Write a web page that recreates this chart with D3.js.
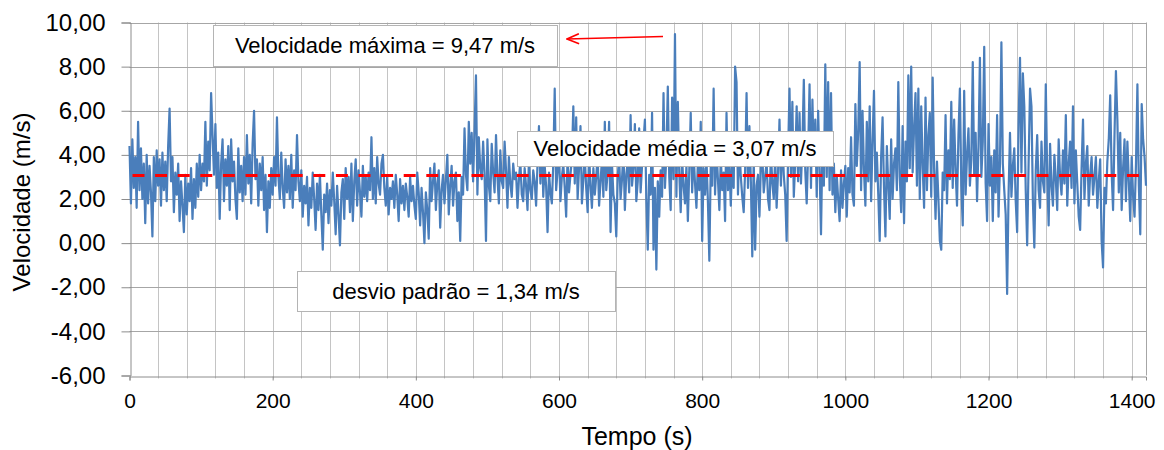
<!DOCTYPE html>
<html>
<head>
<meta charset="utf-8">
<script src="https://cdn.jsdelivr.net/npm/d3@7/dist/d3.min.js"></script>
<style>
  html, body { margin: 0; padding: 0; background: #ffffff; }
  svg { display: block; }
  text { font-family: "Liberation Sans", Arial, sans-serif; fill: #000; }
</style>
</head>
<body>
<svg id="chart" width="1164" height="450"></svg>
<script>
// Wind speed record, one reading every 2 s (m/s)
const timeStep = 2;
const speed = [
  // 0 - 58 s
  4.4, 1.8, 4.7, 2.5, 3.9, 1.6, 5.5, 2.4, 4.3, 2.0, 3.6, 0.9, 4.0, 1.8, 3.5, 2.3, 0.3, 3.9, 1.9, 4.2, 2.6, 3.8, 1.7, 4.1, 2.4, 3.7, 1.9, 4.4, 6.1, 2.8,
  // 60 - 118 s
  3.9, 1.4, 3.2, 2.2, 3.6, 1.0, 2.8, 1.7, 0.5, 3.1, 1.3, 2.7, 1.9, 3.4, 1.1, 2.9, 1.6, 3.6, 2.1, 4.0, 2.4, 3.6, 2.8, 5.5, 2.6, 4.6, 3.3, 6.8, 4.9, 3.1,
  // 120 - 178 s
  5.4, 2.5, 4.1, 1.1, 3.6, 4.7, 1.9, 3.8, 2.6, 4.4, 1.5, 4.7, 2.8, 3.7, 2.0, 1.1, 4.3, 2.3, 3.5, 1.9, 3.9, 2.2, 4.9, 2.7, 4.0, 1.8, 4.5, 6.0, 2.9, 3.8,
  // 180 - 238 s
  1.7, 3.6, 2.4, 3.9, 1.5, 3.1, 0.5, 2.8, 1.6, 3.4, 2.2, 3.9, 2.6, 5.7, 3.0, 2.0, 4.1, 2.5, 1.6, 3.8, 2.3, 3.5, 2.0, 4.0, 1.6, 3.3, 2.4, 4.9, 2.8, 1.9,
  // 240 - 298 s
  3.3, 1.2, 2.6, 1.8, 3.0, 0.8, 2.5, 1.6, 3.2, 2.0, 0.6, 2.7, 1.5, 3.1, 1.3, -0.3, 2.2, 1.4, 2.7, 0.9, 2.4, 1.7, 3.2, 1.9, 0.4, 2.6, 1.3, -0.1, 2.3, 2.9,
  // 300 - 358 s
  1.1, 3.4, 2.0, 3.0, 1.4, 3.6, 1.0, 2.8, 3.8, 1.7, 3.3, 2.3, 1.2, 3.5, 2.1, 3.0, 1.9, 3.2, 2.4, 4.8, 2.0, 3.4, 1.8, 3.9, 2.7, 2.2, 3.6, 4.0, 2.5, 1.7,
  // 360 - 418 s
  3.0, 1.3, 2.5, 2.0, 2.8, 1.6, 3.1, 2.2, 1.0, 2.9, 1.8, 2.6, 1.5, 2.7, 2.1, 1.2, 3.0, 1.9, 2.6, 1.7, 1.1, 3.2, 2.3, 0.8, 2.5, 1.4, 0.0, 2.3, 1.5, 0.2,
  // 420 - 478 s
  3.4, 1.9, 2.8, 3.6, 1.5, 2.7, 3.3, 0.7, 2.4, 3.1, 1.8, 2.9, 4.0, 1.3, 2.6, 3.5, 1.7, 2.8, 3.2, 1.0, 2.3, 0.1, 3.0, 2.2, 5.2, 3.1, 2.4, 5.5, 3.6, 5.0,
  // 480 - 538 s
  2.8, 5.1, 7.6, 2.2, 4.8, 3.4, 2.9, 4.6, 3.1, 0.1, 4.7, 2.6, 1.9, 4.5, 3.2, 2.3, 4.9, 3.0, 1.8, 4.2, 2.8, 2.5, 4.6, 3.3, 1.6, 3.9, 2.7, 2.1, 3.6, 2.9,
  // 540 - 598 s
  3.2, 1.6, 2.9, 3.7, 2.2, 1.9, 3.4, 2.6, 1.5, 3.8, 2.4, 2.0, 3.3, 2.8, 1.7, 3.6, 5.3, 2.7, 5.0, 2.1, 3.5, 2.6, 0.5, 3.2, 2.3, 1.8, 3.6, 7.0, 2.4, 3.3,
  // 600 - 658 s
  4.2, 1.9, 3.0, 3.6, 2.5, 1.2, 4.0, 2.3, 3.1, 3.8, 6.2, 2.7, 5.7, 2.0, 3.4, 5.3, 1.8, 2.9, 3.9, 2.5, 1.4, 4.1, 2.6, 1.6, 3.4, 2.2, 3.0, 4.0, 1.7, 2.8,
  // 660 - 718 s
  3.8, 2.1, 5.5, 2.4, 3.2, 5.5, 0.5, 3.6, 2.2, 1.8, 0.3, 3.0, 3.9, 2.0, 2.9, 4.2, 1.5, 3.1, 3.7, 2.3, 5.8, 2.6, 3.4, 5.4, 1.9, 2.8, 5.2, 2.3, 3.5, 4.6,
  // 720 - 778 s
  5.6, 2.0, -0.3, 3.1, 2.2, 5.9, -0.3, 2.5, -1.2, 2.8, 1.2, 3.3, 2.1, 6.8, 2.5, 4.0, 7.1, 3.0, 1.5, 6.6, 2.9, 9.47, 2.1, 6.4, 3.2, 1.4, 3.8, 2.6, 1.8, 3.5,
  // 780 - 838 s
  1.0, 3.3, 5.9, 2.3, 4.1, 2.7, 1.6, 3.7, 2.4, 5.5, 0.1, 3.4, 2.2, 3.8, 1.9, -0.8, 3.6, 2.6, 7.0, 2.2, 4.3, 2.9, 1.5, 3.9, 2.4, 3.2, 1.0, 5.9, 2.4, 3.6,
  // 840 - 898 s
  1.7, 3.9, 2.5, 8.0, 7.3, 2.2, 4.4, 3.0, 2.1, 1.4, 3.3, 6.8, 2.5, 5.3, 2.8, -0.6, 3.8, -0.3, 2.6, 3.1, 1.2, 3.5, 4.0, 2.3, 3.0, 3.7, 2.0, 1.5, 4.2, 2.7,
  // 900 - 958 s
  2.0, 3.9, 1.6, 3.2, 5.6, 2.6, 4.8, 3.1, 2.2, 0.1, 4.0, 7.0, 3.0, 6.4, 2.1, 3.7, 6.2, 2.8, 5.9, 2.7, 4.5, 7.4, 3.3, 1.8, 4.1, 7.2, 2.5, 6.5, 3.6, 5.6,
  // 960 - 1018 s
  2.1, 6.0, 3.4, 0.4, 4.5, 2.6, 8.1, 3.0, 7.3, 2.4, 6.8, 2.2, 3.6, 1.4, 3.1, 2.0, 1.0, 3.3, 1.6, 2.7, 3.5, 1.2, 3.4, 2.3, 4.8, 2.2, 1.7, 6.3, 3.5, 5.1,
  // 1020 - 1078 s
  8.2, 2.4, 6.0, 3.3, 1.7, 5.5, 2.8, 6.2, 1.9, 4.6, 6.9, 2.8, 4.1, 2.2, 0.1, 3.9, 5.7, 2.5, 0.3, 4.4, 2.6, 1.1, 4.7, 2.0, 3.6, 4.3, 2.4, 7.3, 3.0, 1.4,
  // 1080 - 1138 s
  5.3, 0.9, 4.6, 2.8, 7.6, 3.4, 8.0, 3.2, 5.2, 6.8, 2.6, 7.0, 2.0, 6.2, 3.5, 1.6, 6.6, 2.4, 4.9, 5.9, 2.1, 7.5, 3.4, 1.1, 3.7, 2.0, 0.1, -0.3, 3.2, 2.4,
  // 1140 - 1198 s
  5.8, 1.8, 4.2, 2.9, 6.4, 2.5, 5.6, 3.3, 1.7, 4.9, 7.0, 2.6, 0.8, 6.9, 2.2, 4.0, 5.2, 2.6, 3.8, 8.2, 3.1, 5.0, 1.9, 4.4, 8.4, 3.0, 4.6, 8.9, 2.7, 1.0,
  // 1200 - 1258 s
  5.4, 2.6, 3.9, 1.0, 4.2, 2.3, 5.8, 1.2, 3.6, 9.1, 3.6, 2.4, 1.3, -2.3, 2.2, 5.0, 2.1, 3.5, 4.3, 1.9, 0.5, 5.4, 8.4, 3.2, 7.7, 6.2, 2.4, -0.1, 3.6, 7.0,
  // 1260 - 1318 s
  6.2, 1.9, -0.2, 3.3, 4.9, 2.4, 1.6, 4.6, 2.8, 2.3, 7.2, 3.1, 0.8, 4.5, 2.6, 1.7, 4.0, 2.9, 1.5, 4.7, 3.0, 2.2, 4.2, 2.7, 5.8, 1.7, 3.6, 4.6, 2.5, 6.2,
  // 1320 - 1378 s
  1.8, 4.2, 2.7, 1.2, 0.6, 3.4, 5.6, 2.0, 3.6, 4.4, 1.7, 3.1, 3.9, 2.2, 3.0, 3.9, 1.6, 2.8, 3.8, 0.1, -1.1, 2.5, 1.8, 3.7, 4.7, 6.7, 3.2, 1.5, 4.9, 7.8,
  // 1380 - 1420 s
  5.6, 2.3, 5.0, 1.5, 3.4, 4.7, 1.9, 4.6, 2.8, 1.0, 3.9, 2.1, 1.2, 3.6, 7.2, 2.6, 0.4, 6.3, 4.7, 3.9, 2.6
];

// Summary statistics shown in the annotation boxes
const meanSpeed = 3.07;
const maxSpeed = 9.47;
const stdSpeed = 1.34;

// Axis ticks
const yTicks = [-6, -4, -2, 0, 2, 4, 6, 8, 10];
const xTicks = [0, 200, 400, 600, 800, 1000, 1200, 1400];
const xGrid = d3.range(40, 1420, 40);

const xMax = 1420;

const svg = d3.select("#chart");
const plot = { left: 129.5, right: 1146, top: 22.5, bottom: 375.5 };

const x = d3.scaleLinear().domain([0, xMax]).range([plot.left, plot.right]);
const y = d3.scaleLinear().domain([-6, 10]).range([plot.bottom, plot.top]);

const locale = d3.formatLocale({ decimal: ",", thousands: ".", grouping: [3], currency: ["", ""], minus: "-" });
const fmt2 = locale.format(".2f");

// Vertical grid lines
svg.append("g")
  .selectAll("line")
  .data(xGrid)
  .join("line")
  .attr("x1", d => Math.round(x(d)) + 0.5)
  .attr("x2", d => Math.round(x(d)) + 0.5)
  .attr("y1", plot.top)
  .attr("y2", plot.bottom + 3)
  .attr("stroke", "#c4c4c4")
  .attr("stroke-width", 1);

// Right edge of the plot area
svg.append("line")
  .attr("x1", plot.right + 0.5).attr("x2", plot.right + 0.5)
  .attr("y1", plot.top).attr("y2", plot.bottom)
  .attr("stroke", "#a6a6a6");

// Horizontal grid lines
svg.append("g")
  .selectAll("line")
  .data(yTicks.filter(d => d > -6))
  .join("line")
  .attr("x1", plot.left)
  .attr("x2", plot.right)
  .attr("y1", d => Math.round(y(d)) + 0.5)
  .attr("y2", d => Math.round(y(d)) + 0.5)
  .attr("stroke", "#a6a6a6")
  .attr("stroke-width", 1);

// Y axis
const yAxis = d3.axisLeft(y)
  .tickValues(yTicks)
  .tickSize(9)
  .tickPadding(16)
  .tickFormat(fmt2);
const gy = svg.append("g")
  .attr("transform", `translate(${Math.round(plot.left) + 0.5},0)`)
  .call(yAxis);
gy.select(".domain").attr("stroke", "#8c8c8c");
gy.selectAll(".tick line").attr("stroke", "#8c8c8c");
gy.selectAll(".tick text")
  .style("font-family", '"Liberation Sans", Arial, sans-serif')
  .style("font-size", "24px")
  .attr("fill", "#000");

// X axis
const xAxis = d3.axisBottom(x)
  .tickValues(xTicks)
  .tickSize(4)
  .tickPadding(13)
  .tickFormat(d3.format("d"));
const gx = svg.append("g")
  .attr("transform", `translate(0,${Math.round(plot.bottom) + 0.5})`)
  .call(xAxis);
gx.select(".domain").attr("stroke", "#8c8c8c");
gx.selectAll(".tick line").attr("stroke", "#8c8c8c");
gx.selectAll(".tick text")
  .style("font-family", '"Liberation Sans", Arial, sans-serif')
  .style("font-size", "21px")
  .attr("fill", "#000");

// Speed series
const series = speed.map((v, i) => ({ t: i * timeStep, v }));
svg.append("path")
  .datum(series)
  .attr("fill", "none")
  .attr("stroke", "#4a7ebb")
  .attr("stroke-width", 2.2)
  .attr("stroke-linejoin", "round")
  .attr("d", d3.line().x(d => x(d.t)).y(d => y(d.v)));

// Mean line
svg.append("line")
  .attr("x1", plot.left + 3)
  .attr("x2", plot.right)
  .attr("y1", y(meanSpeed))
  .attr("y2", y(meanSpeed))
  .attr("stroke", "#ff0000")
  .attr("stroke-width", 3)
  .attr("stroke-dasharray", "12,10.6");

// Annotation boxes
const notes = [
  { text: `Velocidade máxima = ${fmt2(maxSpeed)} m/s`, x: 213, y: 25, w: 344, h: 41 },
  { text: `Velocidade média = ${fmt2(meanSpeed)} m/s`, x: 517, y: 131, w: 316, h: 35 },
  { text: `desvio padrão = ${fmt2(stdSpeed)} m/s`, x: 297, y: 271, w: 318, h: 40 }
];
const ng = svg.append("g").selectAll("g").data(notes).join("g");
ng.append("rect")
  .attr("x", d => d.x + 0.5)
  .attr("y", d => d.y + 0.5)
  .attr("width", d => d.w)
  .attr("height", d => d.h)
  .attr("fill", "#ffffff")
  .attr("stroke", "#b4b4b4");
ng.append("text")
  .attr("x", d => d.x + d.w / 2)
  .attr("y", d => d.y + d.h / 2)
  .attr("dy", "0.35em")
  .attr("text-anchor", "middle")
  .style("font-size", "22px")
  .text(d => d.text);

// Arrow pointing from the peak to its label
svg.append("defs").append("marker")
  .attr("id", "arrowhead")
  .attr("viewBox", "0 0 14 12")
  .attr("refX", 13)
  .attr("refY", 6)
  .attr("markerWidth", 14)
  .attr("markerHeight", 12)
  .attr("markerUnits", "userSpaceOnUse")
  .attr("orient", "auto")
  .append("path")
  .attr("d", "M1,1 L13,6 L1,11")
  .attr("fill", "none")
  .attr("stroke", "#ff0000")
  .attr("stroke-width", 1.6);
svg.append("line")
  .attr("x1", 663).attr("y1", 36.5)
  .attr("x2", 567).attr("y2", 39)
  .attr("stroke", "#ff0000")
  .attr("stroke-width", 1.6)
  .attr("marker-end", "url(#arrowhead)");

// Axis titles
svg.append("text")
  .attr("transform", "translate(30,202) rotate(-90)")
  .attr("text-anchor", "middle")
  .style("font-size", "24px")
  .text("Velocidade (m/s)");
svg.append("text")
  .attr("x", 637)
  .attr("y", 445)
  .attr("text-anchor", "middle")
  .style("font-size", "25px")
  .text("Tempo (s)");
</script>
</body>
</html>
